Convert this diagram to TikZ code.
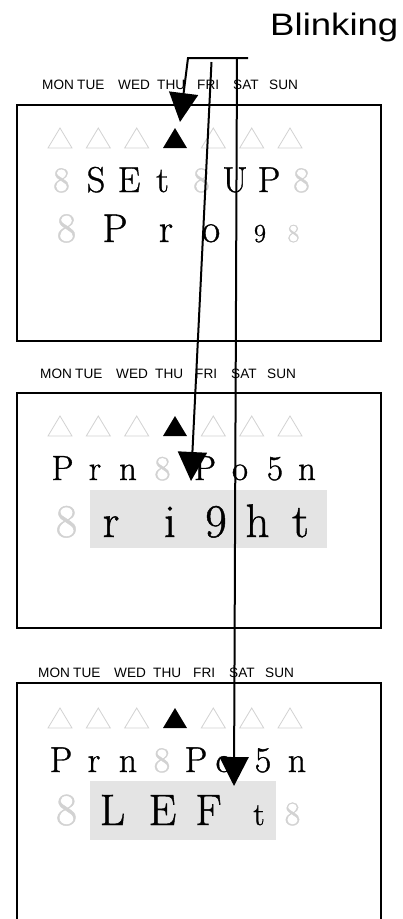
\documentclass[tikz,border=0pt]{standalone}
\usepackage{fontspec}
\newfontfamily\arialf{Liberation Sans}
\newfontfamily\segf{Latin Modern Roman}[FakeBold=1]
\usetikzlibrary{arrows.meta}
\definecolor{segoff}{RGB}{210,210,210}
\definecolor{hilite}{RGB}{228,228,228}
\tikzset{
  ch/.style={anchor=base, inner sep=0pt, font=\segf\fontsize{#1}{#1}\selectfont},
  off/.style={text=segoff},
  day/.style={anchor=base west, inner sep=0pt, font=\arialf\fontsize{13.6}{14}\selectfont},
  frame/.style={draw=black, line width=1.6pt},
  ptr/.style={line width=2pt, -{Triangle[length=29pt,width=29pt]}},
  trioff/.style={draw=segoff, line width=0.8pt, line join=miter},
  trion/.style={fill=black},
  hl/.style={fill=hilite, draw=none},
}
\begin{document}
\begin{tikzpicture}[x=1pt,y=-1pt]
\useasboundingbox (0,0) rectangle (403,919);

% title
\node[anchor=base west, inner sep=0pt, font=\arialf\fontsize{31}{31}\selectfont, xscale=1.18] (blink) at (270,35) {Blinking};

% day labels
\foreach \by/\sh/\id in {89/0/1,378/-2/2,677/-4/3}{
  \foreach \d/\x in {MON/42,TUE/77,WED/118,THU/157,FRI/197,SAT/233,SUN/269}{
    \node[day] (d\id\d) at ({\x+\sh},\by) {\d};
  }
}

% highlight bars
\path[hl] (90,490) rectangle (327,548);
\path[hl] (90,781) rectangle (276,840);

% triangles
\foreach \ty in {128,416,708}{
  \foreach \cx in {60,98.3,136.7,213.3,251.7,290}{
    \draw[trioff] ({\cx-12},{\ty+20}) -- ({\cx+12},{\ty+20}) -- (\cx,\ty) -- cycle;
  }
  \fill[trion] (163,{\ty+20}) -- (187,{\ty+20}) -- (175,\ty) -- cycle;
}

% ---- display 1 ----
\node[ch=36,off] (a1) at (61.5,192) {8};
\node[ch=36] (a2) at (96,192) {S};
\node[ch=36] (a3) at (129,192) {E};
\node[ch=36] (a4) at (162.5,192) {t};
\node[ch=36,off] (a5) at (201.5,192) {8};
\node[ch=36] (a6) at (235,192) {U};
\node[ch=36] (a7) at (269,192) {P};
\node[ch=36,off] (a8) at (301.5,192) {8};

\node[ch=42,off] (b1) at (66.5,242) {8};
\node[ch=40] (b2) at (115,242) {P};
\node[ch=40] (b3) at (166,242) {r};
\node[ch=40] (b4) at (211,242) {o};
\node[ch=26] (b5) at (260,242) {9};
\node[ch=26,off] (b6) at (293.5,242) {8};

% ---- display 2 ----
\node[ch=35] (c1) at (62.5,480) {P};
\node[ch=35] (c2) at (95,480) {r};
\node[ch=35] (c3) at (128,480) {n};
\node[ch=35,off] (c4) at (162.5,480) {8};
\node[ch=35] (c5) at (205,480) {P};
\node[ch=35] (c6) at (240,480) {o};
\node[ch=35] (c7) at (275,480) {5};
\node[ch=35] (c8) at (307,480) {n};

\node[ch=47,off] (e1) at (66.5,537) {8};
\node[ch=47] (e2) at (111,537) {r};
\node[ch=47] (e3) at (170,537) {i};
\node[ch=47] (e4) at (216,537) {9};
\node[ch=47] (e5) at (257.5,537) {h};
\node[ch=47] (e6) at (300.5,537) {t};

% ---- display 3 ----
\node[ch=36] (f1) at (61,772) {P};
\node[ch=36] (f2) at (94,772) {r};
\node[ch=36] (f3) at (128,772) {n};
\node[ch=36,off] (f4) at (162,772) {8};
\node[ch=36] (f5) at (196,772) {P};
\node[ch=36] (f6) at (224,772) {o};
\node[ch=36] (f7) at (263,772) {5};
\node[ch=36] (f8) at (297,772) {n};

\node[ch=46,off] (g1) at (66.5,825) {8};
\node[ch=44] (g2) at (112.5,825) {L};
\node[ch=44] (g3) at (162.5,825) {E};
\node[ch=44] (g4) at (208.5,825) {F};
\node[ch=32] (g5) at (259,825) {t};
\node[ch=34,off] (g6) at (292.5,825) {8};

% frames
\draw[frame] (17,105) rectangle (381,341);
\draw[frame] (17,393) rectangle (381,628);
\draw[frame] (17,922) -- (17,683) -- (381,683) -- (381,922);

% pointers
\coordinate (bl) at (188,58);
\coordinate (br) at (248,58);
\coordinate (t1) at (180,122);
\coordinate (m0) at (211.5,62);
\coordinate (t2) at (191,481);
\coordinate (r0) at (237,58);
\coordinate (t3) at (234,786);
\draw[ptr] (br) -- (bl) -- (t1);
\draw[ptr] (m0) -- (t2);
\draw[ptr] (r0) -- (t3);
\end{tikzpicture}
\end{document}
